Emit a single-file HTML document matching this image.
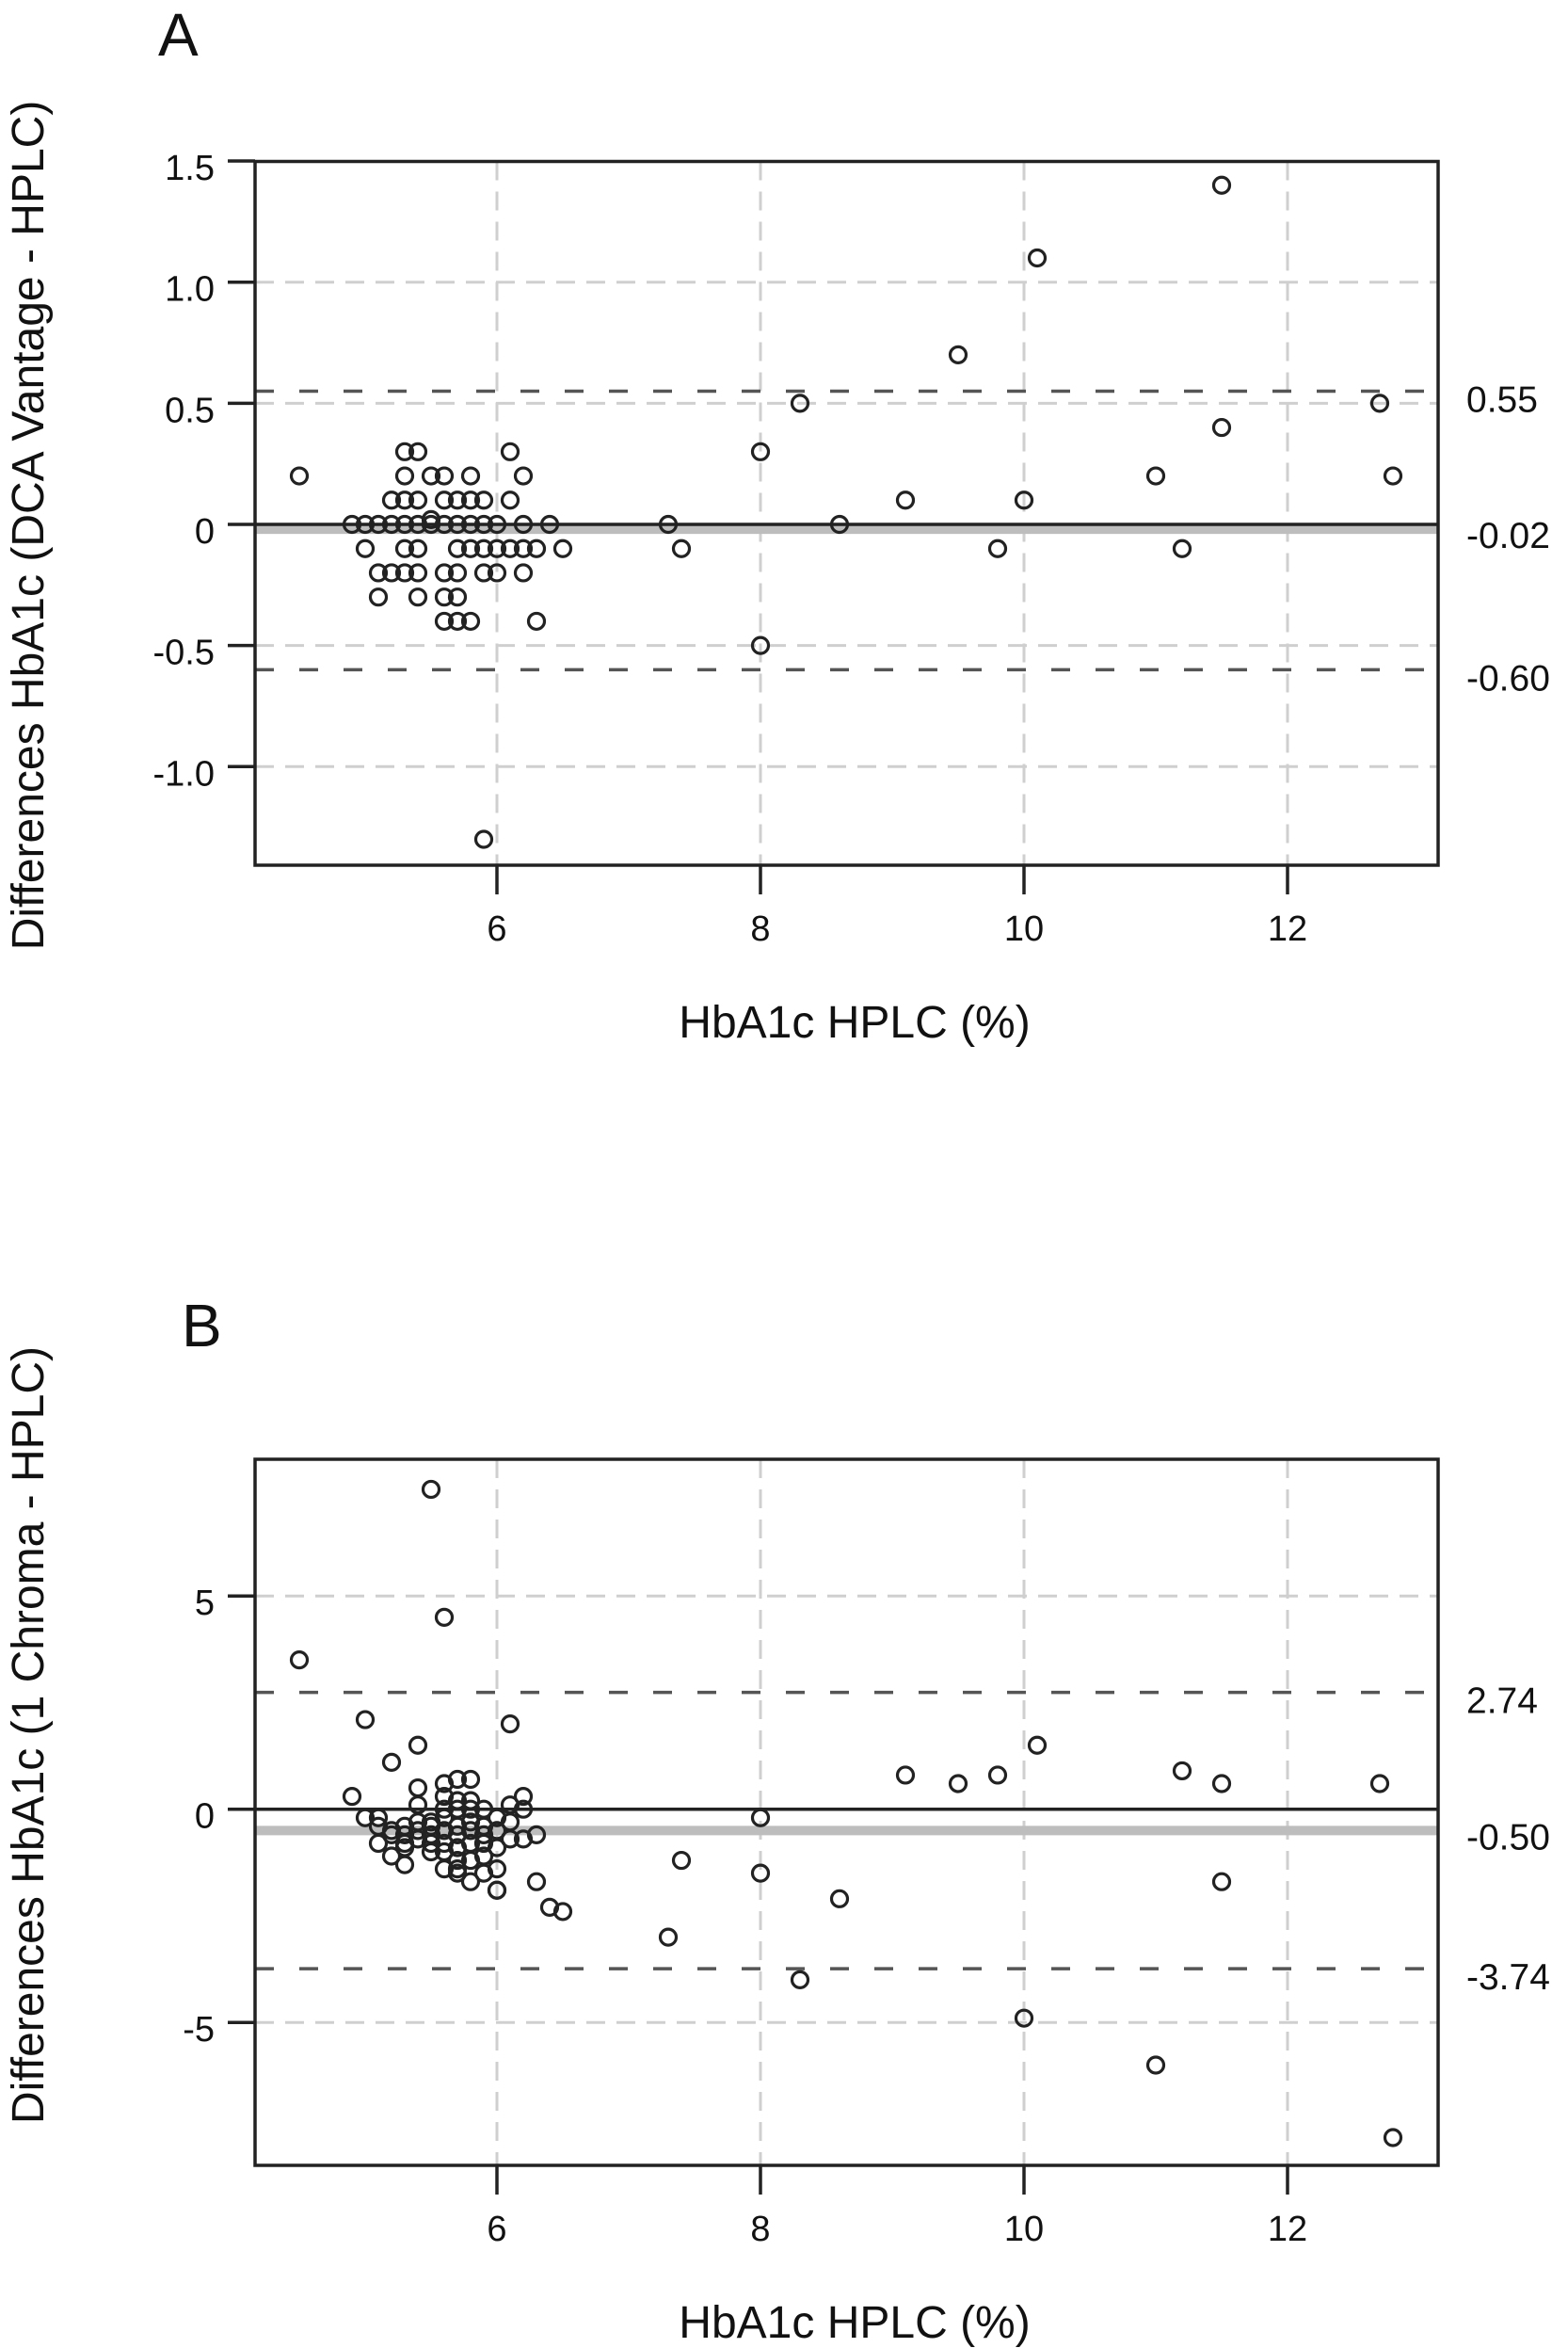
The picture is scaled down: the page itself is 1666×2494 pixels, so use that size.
<!DOCTYPE html>
<html><head><meta charset="utf-8"><style>
html,body{margin:0;padding:0;background:#fff;}
svg{display:block;font-family:"Liberation Sans",Arial,sans-serif;}
</style></head><body>
<svg id="svg" width="1666" height="2494" viewBox="0 0 1666 2494" xmlns="http://www.w3.org/2000/svg"></svg>
<script>
// Panel A data
const aX = [4.5,5.3,5.4,6.1,5.3,5.5,5.6,5.8,6.2,5.2,5.3,5.4,5.6,5.7,5.8,5.9,6.1,4.9,5.0,5.1,5.2,5.3,5.4,5.5,5.5,5.6,5.7,5.8,5.9,6.0,6.2,6.4,5.0,5.3,5.4,5.7,5.8,5.9,6.0,6.1,6.2,6.3,6.5,5.1,5.2,5.3,5.4,5.6,5.7,5.9,6.0,6.2,5.1,5.4,5.6,5.7,5.6,5.7,5.8,6.3,5.9,7.3,7.4,8.0,8.0,8.3,8.6,9.1,9.5,9.8,10.0,10.1,11.0,11.2,11.5,11.5,12.7,12.8];
const aY = [0.2,0.3,0.3,0.3,0.2,0.2,0.2,0.2,0.2,0.1,0.1,0.1,0.1,0.1,0.1,0.1,0.1,0,0,0,0,0,0,0,0.02,0,0,0,0,0,0,0,-0.1,-0.1,-0.1,-0.1,-0.1,-0.1,-0.1,-0.1,-0.1,-0.1,-0.1,-0.2,-0.2,-0.2,-0.2,-0.2,-0.2,-0.2,-0.2,-0.2,-0.3,-0.3,-0.3,-0.3,-0.4,-0.4,-0.4,-0.4,-1.3,0,-0.1,0.3,-0.5,0.5,0,0.1,0.7,-0.1,0.1,1.1,0.2,-0.1,1.4,0.4,0.5,0.2];
const aYTicks = [1.5,1.0,0.5,0,-0.5,-1.0];
const aYTickLabels = ["1.5","1.0","0.5","0","-0.5","-1.0"];
const aGridY = [1.0,0.5,-0.5,-1.0];
const aLimits = [0.55,-0.60];
const aLimitLabels = ["0.55","-0.60"];
const aMean = -0.02;
const aMeanLabel = "-0.02";
// Panel B data
const bX = [4.5,5.5,5.6,5.0,6.1,5.4,5.2,4.9,7.3,7.4,8.0,8.0,8.3,8.6,9.1,9.5,9.8,10.0,10.1,11.0,11.2,11.5,11.5,12.7,12.8,6.3,6.4,6.5,6.0,5.0,5.1,5.1,5.1,5.2,5.3,5.3,5.2,5.4,5.4,5.5,5.5,5.6,5.6,5.7,5.8,5.7,5.8,5.7,5.8,5.9,5.9,5.9,6.0,6.0,6.1,6.1,6.2,6.2,6.1,6.2,6.3,5.2,5.3,5.3,5.4,5.4,5.5,5.5,5.6,5.6,5.6,5.7,5.7,5.7,5.8,5.8,5.8,5.9,5.9,5.9,6.0,6.0,6.0,5.7,5.8,5.6,5.5,5.4,5.3,5.7,5.6,5.8,5.6,5.7];
const bY = [3.5,7.5,4.5,2.1,2.0,1.5,1.1,0.3,-3.0,-1.2,-0.2,-1.5,-4.0,-2.1,0.8,0.6,0.8,-4.9,1.5,-6.0,0.9,0.6,-1.7,0.6,-7.7,-1.7,-2.3,-2.4,-1.9,-0.2,-0.2,-0.4,-0.8,-1.1,-1.3,-0.9,-0.6,0.5,0.1,-1.0,-0.4,0.6,0.3,0.7,0.7,0.2,0.2,-1.5,-1.7,-1.5,0.0,-1.1,-1.4,-1.9,0.1,-0.3,0.3,0.0,-0.7,-0.7,-0.6,-0.5,-0.6,-0.4,-0.5,-0.7,-0.6,-0.3,-0.5,-0.8,-0.2,-0.6,-0.4,-0.9,-0.5,-0.8,-0.3,-0.6,-0.8,-0.4,-0.5,-0.9,-0.2,-1.2,-1.2,-1.0,-0.8,-0.3,-0.8,0.0,0.0,0.0,-1.4,-1.4];
const bYTicks = [5,0,-5];
const bYTickLabels = ["5","0","-5"];
const bGridY = [5,-5];
const bLimits = [2.74,-3.74];
const bLimitLabels = ["2.74","-3.74"];
const bMean = -0.50;
const bMeanLabel = "-0.50";
const xTicks = [6,8,10,12];
const xTickLabels = ["6","8","10","12"];

const NS = "http://www.w3.org/2000/svg";
const svg = document.getElementById('svg');
function mk(tag, attrs, parent){
  const e = document.createElementNS(NS, tag);
  for (const k in attrs) e.setAttribute(k, attrs[k]);
  (parent||svg).appendChild(e);
  return e;
}
const L = 271, R = 1528;
function xs(v){ return 528 + (v-6)*140; }

function panel(o){
  const g = mk('g', {});
  
  
  const top = o.top, bot = o.bot;
  const ys = v => o.zeroY - v*o.ppu;
  // panel letter
  const t = mk('text', {x:o.letterX, y:o.letterY, 'font-size':64, fill:'#111'}, g);
  t.textContent = o.letter;
  
  
  // grid
  xTicks.forEach(v => {
    const l = mk('line', {x1:xs(v), x2:xs(v), y1:top, y2:bot, stroke:'#cfcfcf', 'stroke-width':3, 'stroke-dasharray':'20 12'}, g);
    
    
  });
  o.gridY.forEach(v => {
    const l = mk('line', {x1:L, x2:R, y1:ys(v), y2:ys(v), stroke:'#cfcfcf', 'stroke-width':3, 'stroke-dasharray':'20 12'}, g);
    
    
  });
  // mean line
  const m = mk('line', {x1:L, x2:R, y1:ys(o.mean), y2:ys(o.mean), stroke:'#bdbdbd', 'stroke-width':10}, g);
  
  
  // zero line
  const z = mk('line', {x1:L, x2:R, y1:ys(0), y2:ys(0), stroke:'#222', 'stroke-width':3.5}, g);
  
  
  // limits
  o.limits.forEach((v,i) => {
    const l = mk('line', {x1:L, x2:R, y1:ys(v), y2:ys(v), stroke:'#555', 'stroke-width':3.5, 'stroke-dasharray':'20 27'}, g);
    
    
    const tx = mk('text', {x:1558, y:ys(v)+22, 'font-size':39, fill:'#111'}, g);
    tx.textContent = o.limitLabels[i];
    
    
  });
  const ml = mk('text', {x:1558, y:ys(o.mean)+20, 'font-size':39, fill:'#111'}, g);
  ml.textContent = o.meanLabel;
  
  
  // points
  o.xs.forEach((xv,i) => {
    const c = mk('circle', {cx:xs(xv), cy:ys(o.ys[i]), r:8.5, fill:'none', stroke:'#222', 'stroke-width':3.2}, g);
    
    
  });
  // box
  const b = mk('rect', {x:L, y:top, width:R-L, height:bot-top, fill:'none', stroke:'#222', 'stroke-width':3.5}, g);
  
  
  // y ticks
  o.yTicks.forEach((v,i) => {
    const l = mk('line', {x1:242, x2:L, y1:ys(v), y2:ys(v), stroke:'#222', 'stroke-width':3.5}, g);
    
    
    const tx = mk('text', {x:228, y:ys(v)+20, 'font-size':38, 'text-anchor':'end', fill:'#111'}, g);
    tx.textContent = o.yTickLabels[i];
    
    
  });
  // x ticks
  xTicks.forEach((v,i) => {
    const l = mk('line', {x1:xs(v), x2:xs(v), y1:bot, y2:bot+31, stroke:'#222', 'stroke-width':3.5}, g);
    
    
    const tx = mk('text', {x:xs(v), y:bot+80, 'font-size':38, 'text-anchor':'middle', fill:'#111'}, g);
    tx.textContent = xTickLabels[i];
    
    
  });
  const xt = mk('text', {x:908, y:bot+183, 'font-size':48, 'text-anchor':'middle', fill:'#111'}, g);
  xt.textContent = 'HbA1c HPLC (%)';
  
  
  const yt = mk('text', {x:0, y:0, 'font-size':48, 'text-anchor':'middle', fill:'#111', transform:`translate(46,${o.yTitleY}) rotate(-90)`}, g);
  yt.textContent = o.yTitle;
  
  
}

panel({name:'panel-a', letter:'A', letterX:168, letterY:59, top:171.5, bot:919, zeroY:557, ppu:257.3,
  xs:aX, ys:aY, yTicks:aYTicks, yTickLabels:aYTickLabels, gridY:aGridY, limits:aLimits, limitLabels:aLimitLabels,
  mean:aMean, meanLabel:aMeanLabel, yTitleY:558, yTitle:'Differences HbA1c (DCA Vantage - HPLC)'});
panel({name:'panel-b', letter:'B', letterX:193, letterY:1430, top:1550, bot:2300, zeroY:1921.7, ppu:45.3,
  xs:bX, ys:bY, yTicks:bYTicks, yTickLabels:bYTickLabels, gridY:bGridY, limits:bLimits, limitLabels:bLimitLabels,
  mean:bMean, meanLabel:bMeanLabel, yTitleY:1843, yTitle:'Differences HbA1c (1 Chroma - HPLC)'});
</script>
</body></html>
